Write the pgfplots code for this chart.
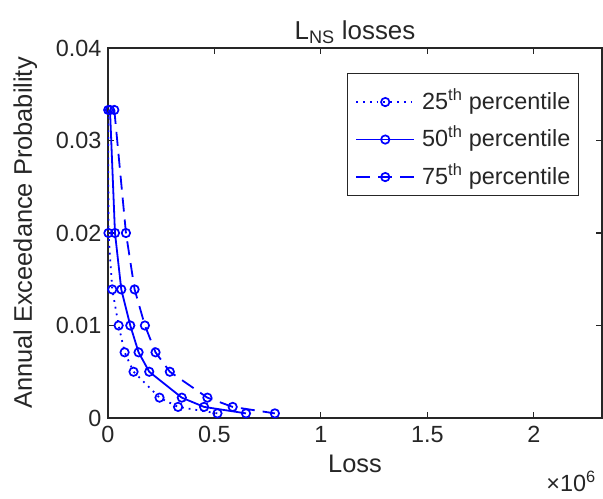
\documentclass[border=0pt]{standalone}
\usepackage{pgfplots}
\pgfplotsset{compat=1.18}
\usepackage{fontspec}
\setmainfont{Liberation Sans}
\definecolor{txt}{RGB}{38,38,38}
\definecolor{mblue}{RGB}{0,0,255}
\newcommand{\fs}{\fontsize{23.5}{28}\selectfont}
\newcommand{\fl}{\fontsize{25.5}{30}\selectfont}
\newcommand{\ft}{\fontsize{26}{30}\selectfont}
\begin{document}
\begin{tikzpicture}
\begin{axis}[
  name=ax,
  scale only axis,
  width=494bp, height=370bp,
  xmin=0, xmax=2320000, ymin=0, ymax=0.04,
  xtick={0,500000,1000000,1500000,2000000},
  xticklabels={0,0.5,1,1.5,2},
  ytick={0,0.01,0.02,0.03,0.04},
  yticklabels={0,0.01,0.02,0.03,0.04},
  scaled ticks=false,
  tick align=inside,
  major tick length=6bp,
  axis line style={line width=1.3bp, draw=txt},
  every tick/.style={line width=1.1bp, draw=txt},
  tick label style={font=\fs, text=txt},
  xticklabel style={yshift=-5bp},
  yticklabel style={xshift=-3bp},
  xlabel={Loss},
  ylabel={Annual Exceedance Probability},
  label style={font=\fl, text=txt},
  xlabel style={yshift=-5bp},
  ylabel style={yshift=12bp},
  title={L\textsubscript{NS} losses},
  title style={font=\ft, text=txt, yshift=-5bp},
  legend style={at={(0.953,0.932)}, anchor=north east, draw=txt, line width=0.8bp,
    fill=white, font=\fs, text=txt, cells={anchor=west},
    nodes={inner sep=0bp, text height=28bp, text depth=4bp},
    row sep=5.5bp, column sep=7bp,
    inner xsep=8bp, inner ysep=7.5bp},
  legend image code/.code={\draw[mark repeat=2,mark phase=2,#1] plot coordinates {(0bp,-5bp) (29bp,-5bp) (58bp,-5bp)};},
]
\addplot[mblue, line width=1.8bp, dash pattern=on 1.8bp off 5bp, mark=o, mark size=4.2bp,
  mark options={solid, line width=1.7bp}] coordinates {
  (1000,0.0333) (2000,0.02) (20000,0.0139) (50000,0.01) (78000,0.0071)
  (120000,0.005) (242000,0.0022) (329000,0.0012) (514000,0.0005)};
\addlegendentry{25\textsuperscript{th} percentile}
\addplot[mblue, line width=1.8bp, solid, mark=o, mark size=4.2bp,
  mark options={solid, line width=1.7bp}] coordinates {
  (9400,0.0333) (32800,0.02) (62400,0.0139) (104600,0.01) (143600,0.0071)
  (193600,0.005) (346600,0.0022) (451200,0.0012) (648000,0.0005)};
\addlegendentry{50\textsuperscript{th} percentile}
\addplot[mblue, line width=1.8bp, dash pattern=on 14bp off 8bp, mark=o, mark size=4.2bp,
  mark options={solid, line width=1.7bp}] coordinates {
  (29700,0.0333) (84300,0.02) (124900,0.0139) (173300,0.01) (223300,0.0071)
  (290400,0.005) (466800,0.0022) (585500,0.0012) (783700,0.0005)};
\addlegendentry{75\textsuperscript{th} percentile}
\end{axis}
\node[anchor=north east, font=\fs, text=txt, inner sep=0bp] at ([xshift=-6bp,yshift=-53bp]ax.south east) {×10\textsuperscript{6}};
\pgfresetboundingbox
\path ([xshift=-108bp,yshift=-81bp]ax.south west) rectangle ++(603bp,499bp);
\end{tikzpicture}
\end{document}
